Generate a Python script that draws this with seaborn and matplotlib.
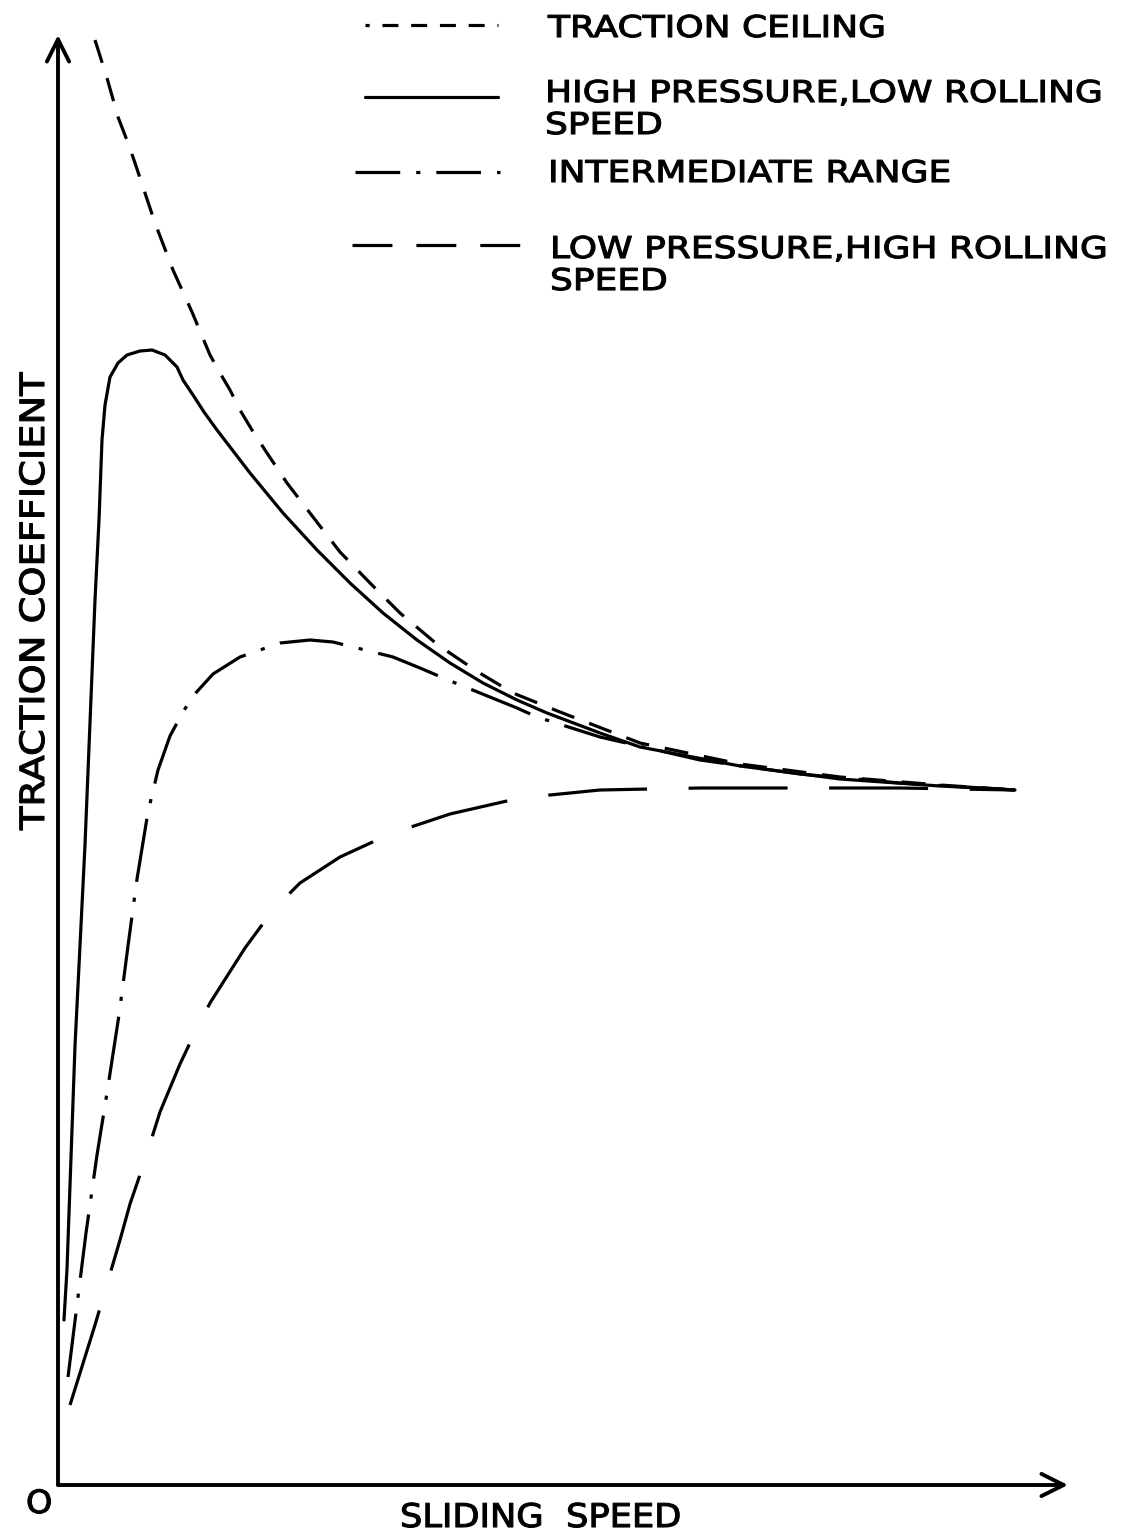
import numpy as np
import pandas as pd
import matplotlib
matplotlib.use("Agg")
import matplotlib.pyplot as plt
from matplotlib.lines import Line2D
from matplotlib.patheffects import AbstractPathEffect
from matplotlib.transforms import Affine2D
import seaborn as sns

# ---------------- data (arbitrary units: sliding speed, traction coefficient) ----------------
ceiling_x = [37, 49, 60, 70, 77, 97, 115, 134, 152, 162, 172, 182, 194, 207, 229, 242, 255, 282, 312, 342, 380, 420, 455, 502, 582, 682, 782, 882, 957]
ceiling_y = [1445, 1407, 1368, 1342, 1322, 1262, 1215, 1173, 1130, 1112, 1095, 1075, 1055, 1035, 1002, 985, 968, 933, 902, 872, 840, 813, 792, 773, 742, 721, 708, 700, 695]

high_p_x = [6, 9, 17, 27, 37, 41, 44, 47, 52, 60, 69, 82, 94, 107, 119, 125, 135, 146, 159, 192, 225, 259, 292, 325, 359, 392, 425, 459, 489, 542, 582, 682, 782, 882, 957]
high_p_y = [165, 216, 439, 640, 885, 965, 1045, 1080, 1108, 1122, 1130, 1134, 1135, 1130, 1118, 1105, 1090, 1073, 1055, 1012, 972, 935, 902, 872, 845, 822, 802, 785, 772, 752, 738, 719, 706, 699, 695]

inter_x = [10, 21, 28, 39, 49, 61, 70, 79, 90, 100, 112, 125, 135, 155, 182, 222, 252, 275, 335, 362, 390, 459, 479, 542, 642, 742, 842, 957]
inter_y = [108, 196, 252, 330, 392, 470, 539, 606, 673, 715, 749, 773, 789, 811, 828, 842, 845, 843, 828, 817, 805, 777, 768, 748, 725, 711, 702, 695]

low_p_x = [12, 37, 62, 72, 84, 102, 122, 131, 152, 187, 215, 242, 282, 332, 392, 462, 542, 642, 742, 842, 957]
low_p_y = [80, 160, 245, 281, 316, 373, 421, 440, 482, 537, 575, 602, 628, 651, 671, 687, 695, 697, 697, 697, 695]

legend_labels = ["TRACTION CEILING",
                 "HIGH PRESSURE,LOW ROLLING\nSPEED",
                 "INTERMEDIATE RANGE",
                 "LOW PRESSURE,HIGH ROLLING\nSPEED"]
x_label = "SLIDING  SPEED"
y_label = "TRACTION COEFFICIENT"
origin_label = "O"

# ---------------- styling ----------------
W, H = 1133, 1534
sns.set_style("white")
plt.rcParams["font.family"] = ["DejaVu Sans"]
plt.rcParams["text.color"] = "black"


class HStretch(AbstractPathEffect):
    """Stretch glyphs along the baseline and thicken them (technical lettering)."""
    def __init__(self, sx, lw=0.8):
        super().__init__()
        self.sx = sx
        self.lw = lw

    def draw_path(self, renderer, gc, tpath, affine, rgbFace=None):
        aff = Affine2D().scale(self.sx, 1.0) + affine
        gc0 = renderer.new_gc()
        gc0.copy_properties(gc)
        gc0.set_linewidth(self.lw)
        gc0.set_foreground("black")
        renderer.draw_path(gc0, tpath, aff, rgbFace)
        gc0.restore()


def fx(px):
    return px / W


def fy(py):
    return 1 - py / H


fig = plt.figure(figsize=(W / 100, H / 100), dpi=100)
ax = fig.add_axes([fx(58), fy(1485), (1068 - 58) / W, (1485 - 35) / H])
ax.set_xlim(0, 1010)
ax.set_ylim(0, 1450)
for s in ax.spines.values():
    s.set_visible(False)
ax.set_xticks([])
ax.set_yticks([])
ax.patch.set_alpha(0)

LW = 2.3
styles = {
    "ceiling": (0, (7.5, 5.0)),
    "high": "-",
    "inter": (0, (20, 5, 1.3, 5)),
    "low": (0, (31, 13)),
}

curves = [
    ("ceiling", ceiling_x, ceiling_y),
    ("high", high_p_x, high_p_y),
    ("inter", inter_x, inter_y),
    ("low", low_p_x, low_p_y),
]
for key, xs, ys in curves:
    df = pd.DataFrame({"sliding": xs, "traction": ys})
    sns.lineplot(data=df, x="sliding", y="traction", sort=False, estimator=None,
                 color="black", lw=LW, linestyle=styles[key], ax=ax, clip_on=False)
ax.set_xlabel("")
ax.set_ylabel("")

# axes with open arrow heads
arrow_kw = dict(arrowstyle="->", lw=2.8, color="black", mutation_scale=40,
                shrinkA=0, shrinkB=0)
ax.annotate("", xy=(0, 1450), xytext=(0, 0), arrowprops=arrow_kw, annotation_clip=False)
ax.annotate("", xy=(1010, 0), xytext=(0, 0), arrowprops=arrow_kw, annotation_clip=False)

# axis labels
fig.text(fx(44), fy(830), y_label, rotation=90, rotation_mode="anchor",
         ha="left", va="baseline", fontsize=24, path_effects=[HStretch(1.15)])
fig.text(fx(400), fy(1527), x_label, ha="left", va="baseline", fontsize=23.5,
         path_effects=[HStretch(1.08)])
fig.text(fx(26), fy(1513), origin_label, ha="left", va="baseline", fontsize=23,
         path_effects=[HStretch(1.05)])

# legend (hand-placed key as in the drawing)
leg_lines = [
    (365, 498, 25, (0, (1.3, 4, 5, 4, 5, 4, 5, 4, 5, 4))),
    (365, 498, 97, "-"),
    (355, 500, 172, (0, (14, 5, 1.3, 5))),
    (352, 520, 245, (0, (12.5, 7.5))),
]
for x0, x1, yy, ls in leg_lines:
    fig.add_artist(Line2D([fx(x0), fx(x1)], [fy(yy), fy(yy)], transform=fig.transFigure,
                          color="black", lw=LW, linestyle=ls))

leg_text_pos = [(548, 37), (545, 102), (548, 182), (550, 258)]
for (lx, ly), lab in zip(leg_text_pos, legend_labels):
    lines = lab.split("\n")
    for i, ln in enumerate(lines):
        fig.text(fx(lx), fy(ly + i * 32), ln, ha="left", va="baseline", fontsize=21.6,
                 path_effects=[HStretch(1.2)])

fig.savefig("out.png", dpi=100)
